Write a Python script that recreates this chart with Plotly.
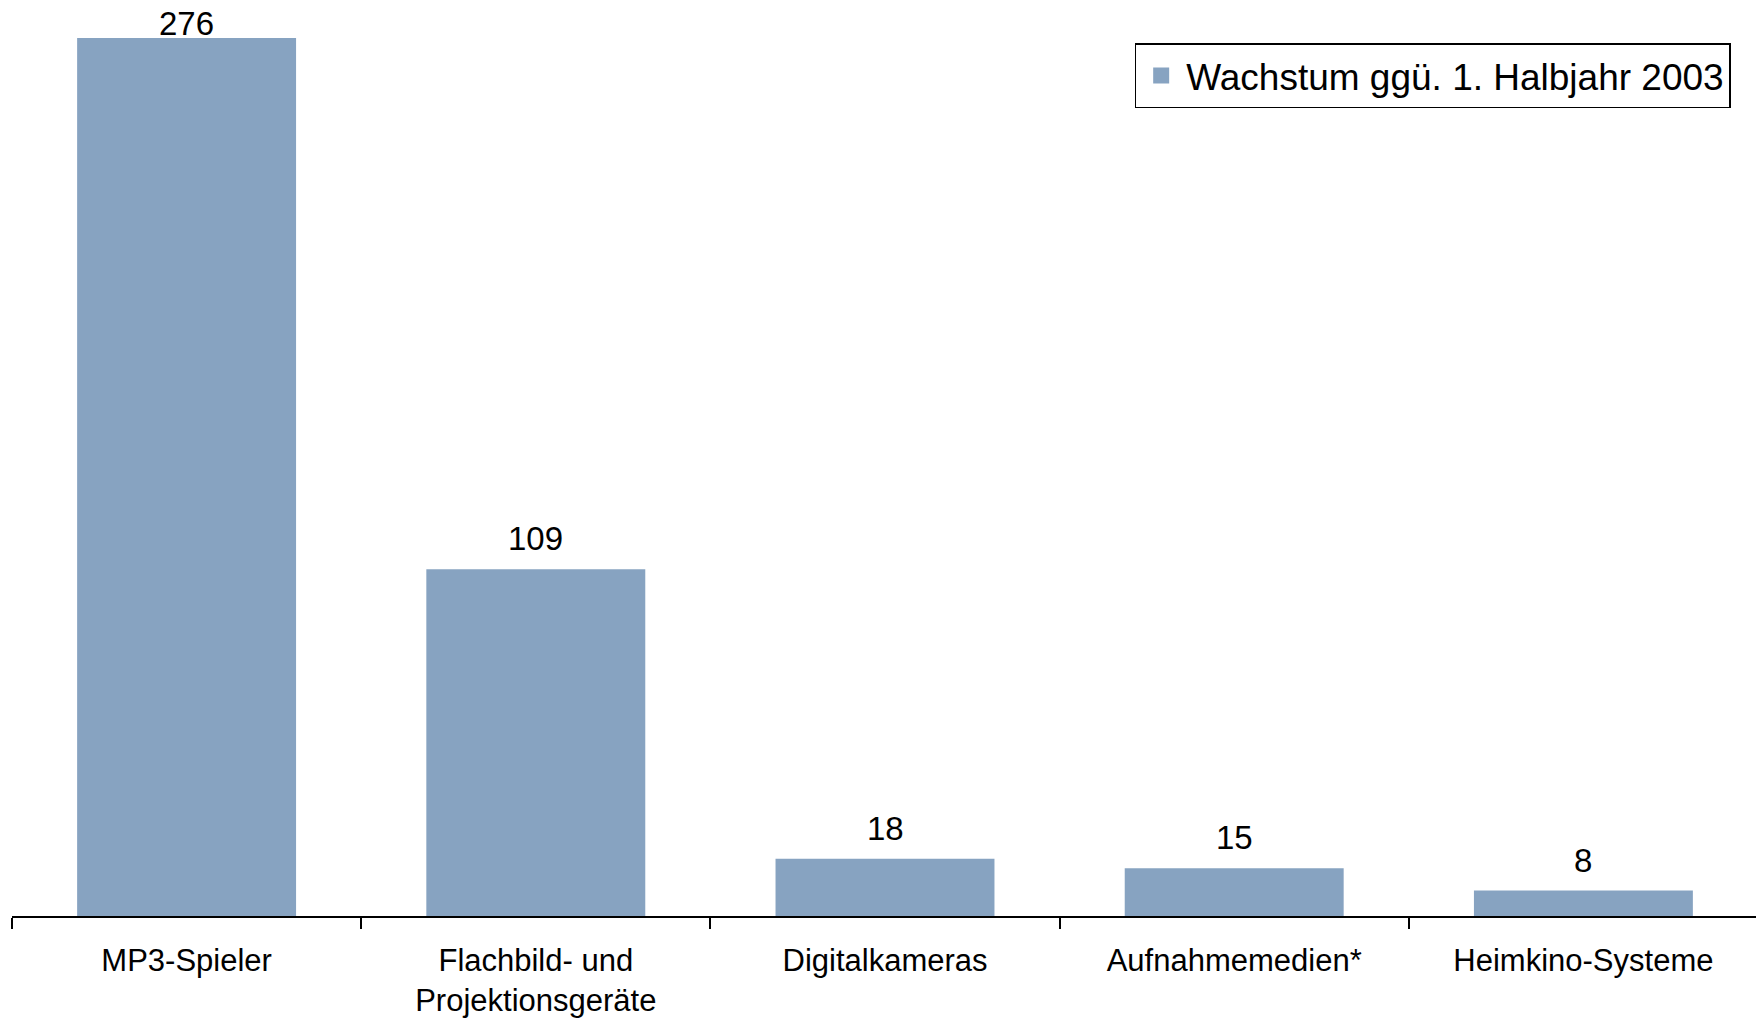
import plotly.graph_objects as go

categories = ["MP3-Spieler", "Flachbild- und<br>Projektionsgeräte", "Digitalkameras",
              "Aufnahmemedien*", "Heimkino-Systeme"]
values = [276, 109, 18, 15, 8]
series_name = "Wachstum ggü. 1. Halbjahr 2003"
bar_color = "#87A3C1"

Y_MAX = 285.4
PLOT_H = 908
PAGE_OFF = 8

fig = go.Figure()
fig.add_trace(go.Bar(
    x=categories, y=values, name=series_name,
    marker=dict(color=bar_color, line=dict(width=0)),
    cliponaxis=False, showlegend=False,
))
# legend entry with a larger square swatch
fig.add_trace(go.Scatter(
    x=[categories[0]], y=[None], mode="markers", name=series_name,
    marker=dict(symbol="square", size=16, color=bar_color),
    showlegend=True, hoverinfo="skip",
))

# value labels above bars (top one pushed down to stay inside the page)
for c, v in zip(categories, values):
    top_px = PAGE_OFF + PLOT_H * (1 - v / Y_MAX)
    shift = min(31, top_px - 23)
    fig.add_annotation(x=c, y=v, text=str(v), showarrow=False,
                       yanchor="middle", yshift=shift, height=30,
                       font=dict(family="Liberation Sans, Arial", size=33, color="black"))

fig.update_layout(
    width=1756, height=1010,
    margin=dict(l=4, r=6, t=0, b=102, autoexpand=False),
    plot_bgcolor="white", paper_bgcolor="white",
    bargap=0.373,
    font=dict(family="Liberation Sans, Arial", color="black"),
    showlegend=True,
    legend=dict(x=0.643, y=0.961, xanchor="left", yanchor="top",
                bordercolor="black", borderwidth=1.5, bgcolor="white",
                itemsizing="trace", itemwidth=40,
                font=dict(size=37, color="black")),
    xaxis=dict(type="category", tickson="boundaries", ticks="outside", ticklen=11,
               tickcolor="black", tickwidth=1.5, showline=True, linecolor="black",
               linewidth=1.5, tickfont=dict(size=31, color="black"),
               ticklabelstandoff=16, showgrid=False, automargin=False),
    yaxis=dict(range=[0, Y_MAX], visible=False, showgrid=False, zeroline=False),
)

fig.write_html("out.html")
